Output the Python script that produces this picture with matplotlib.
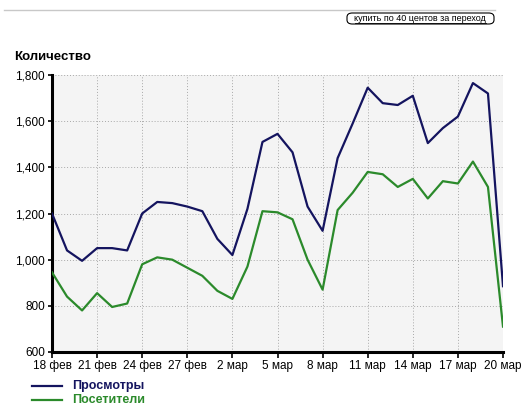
import matplotlib.pyplot as plt
from matplotlib.patches import FancyBboxPatch
from matplotlib.lines import Line2D
import numpy as np

plt.rcParams['font.family'] = ['Liberation Sans', 'DejaVu Sans']

# daily values, 18 feb .. 20 mar
views = [1200, 1040, 995, 1050, 1050, 1040, 1200, 1250, 1245, 1230, 1210,
         1090, 1020, 1220, 1510, 1545, 1465, 1230, 1125, 1440, 1590, 1745,
         1678, 1670, 1710, 1505, 1570, 1620, 1765, 1720, 885]
visitors = [945, 840, 780, 855, 795, 810, 980, 1010, 1000, 965, 930,
            865, 830, 970, 1210, 1205, 1175, 1000, 870, 1215, 1290, 1380,
            1370, 1315, 1350, 1265, 1340, 1330, 1425, 1315, 710]
tick_labels = ["18 фев", "21 фев", "24 фев", "27 фев", "2 мар", "5 мар",
               "8 мар", "11 мар", "14 мар", "17 мар", "20 мар"]
y_ticks = [600, 800, 1000, 1200, 1400, 1600, 1800]

blue = "#14145f"
green = "#2b8a2b"

W, H = 531, 409
fig = plt.figure(figsize=(W / 100, H / 100), dpi=100)
fig.patch.set_facecolor("white")

ax = fig.add_axes([52 / W, 1 - 352 / H, (503 - 52) / W, (352 - 75) / H])
ax.set_facecolor("#f4f4f4")

x = np.arange(len(views))
ax.plot(x, views, color=blue, linewidth=1.6, zorder=3)
ax.plot(x, visitors, color=green, linewidth=1.6, zorder=3)

ax.set_xlim(0, 30)
ax.set_ylim(600, 1800)
ax.set_xticks(np.arange(0, 31, 3))
ax.set_xticklabels(tick_labels)
ax.set_yticks(y_ticks)
ax.set_yticklabels([f"{v:,}" for v in y_ticks])

ax.grid(True, color="#a8a8a8", linestyle=(0, (1, 2)), linewidth=0.7)
for side in ["top", "right"]:
    ax.spines[side].set_visible(False)
for side in ["left", "bottom"]:
    ax.spines[side].set_linewidth(2.2)
    ax.spines[side].set_color("black")

ax.tick_params(axis="both", direction="out", length=4, width=1.2,
               labelsize=8.5, colors="black", pad=2)
ax.tick_params(axis="y", length=3)

# header
fig.text(14 / W, 1 - 57 / H, "Количество", fontsize=9.5, fontweight="bold",
         va="center", ha="left")
fig.add_artist(Line2D([4 / W, 495 / W], [1 - 10 / H, 1 - 10 / H],
                      color="#c8c8c8", linewidth=1))
btn = FancyBboxPatch((347 / W, 1 - 24 / H), 147 / W, 11 / H,
                     boxstyle="round,pad=0,rounding_size=0.01",
                     transform=fig.transFigure, facecolor="white",
                     edgecolor="black", linewidth=0.8)
fig.add_artist(btn)
fig.text(420 / W, 1 - 18.5 / H, "купить по 40 центов за переход",
         fontsize=6.5, ha="center", va="center")
fig.add_artist(Line2D([355 / W, 486 / W], [1 - 22.5 / H, 1 - 22.5 / H],
                      color="black", linewidth=0.6))

# legend
for i, (label, col) in enumerate([("Просмотры", blue), ("Посетители", green)]):
    yy = 1 - (386 + 14 * i) / H
    fig.add_artist(Line2D([32 / W, 62 / W], [yy, yy], color=col, linewidth=1.6))
    fig.text(72 / W, yy, label, color=col, fontsize=9, fontweight="bold",
             va="center", ha="left")

fig.savefig("out.png", dpi=100)
